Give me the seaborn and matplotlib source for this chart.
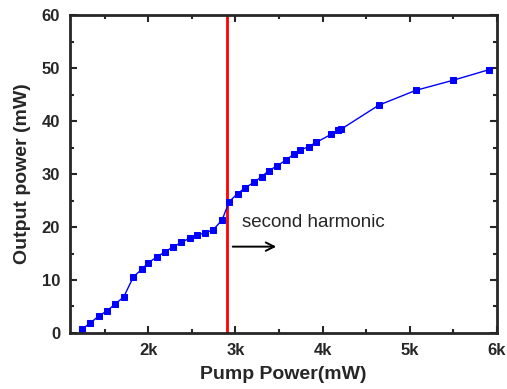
import pandas as pd
import matplotlib
matplotlib.use("Agg")
import matplotlib.pyplot as plt
import matplotlib.ticker as mticker
import seaborn as sns

# datos
pump_power = [1236, 1335, 1430, 1527, 1622, 1717, 1828, 1923, 2000, 2095,
              2187, 2279, 2378, 2473, 2562, 2653, 2745, 2845, 2928, 3023,
              3112, 3215, 3299, 3379, 3482, 3574, 3666, 3746, 3838, 3929,
              4097, 4174, 4215, 4644, 5068, 5496, 5908]
output_power = [0.7, 1.9, 3.2, 4.2, 5.5, 6.8, 10.6, 12.0, 13.3, 14.3,
                15.3, 16.2, 17.1, 17.9, 18.5, 18.9, 19.5, 21.3, 24.8, 26.3,
                27.4, 28.5, 29.5, 30.6, 31.6, 32.6, 33.7, 34.5, 35.2, 36.0,
                37.5, 38.3, 38.5, 43.0, 45.8, 47.7, 49.7]
threshold = 2900
x_ticks = [2000, 3000, 4000, 5000, 6000]
x_tick_labels = ["2k", "3k", "4k", "5k", "6k"]

df = pd.DataFrame({"pump": pump_power, "out": output_power})

sns.set_style("ticks")
plt.rcParams["font.family"] = ["Liberation Sans", "DejaVu Sans"]

fig = plt.figure(figsize=(5.07, 3.89), dpi=100)
ax = fig.add_axes([0.138, 0.144, 0.842, 0.817])

ax.axvline(threshold, color="#FF0000", lw=2, zorder=1)
sns.lineplot(data=df, x="pump", y="out", ax=ax, color="#0000FF", lw=1.0,
             marker="s", markersize=5, markeredgecolor="#0000FF", zorder=2)

ax.text(3080, 20.9, "second harmonic", fontsize=13.5, va="center", ha="left")
ax.annotate("", xy=(3500, 16.3), xytext=(2936, 16.3),
            arrowprops=dict(arrowstyle="->,head_length=0.6,head_width=0.3",
                            color="black", lw=1.4))

ax.set_xlim(1100, 6000)
ax.set_ylim(0, 60)
ax.set_xticks(x_ticks)
ax.set_xticklabels(x_tick_labels)
ax.xaxis.set_minor_locator(mticker.MultipleLocator(500))
ax.yaxis.set_major_locator(mticker.MultipleLocator(10))
ax.yaxis.set_minor_locator(mticker.MultipleLocator(5))
ax.tick_params(which="both", direction="in", top=True, right=True, width=1.5)
ax.tick_params(which="major", length=5, labelsize=12, pad=7)
ax.tick_params(which="minor", length=3)
for lbl in ax.get_xticklabels() + ax.get_yticklabels():
    lbl.set_fontweight("bold")
for sp in ax.spines.values():
    sp.set_linewidth(2)

ax.set_xlabel("Pump Power(mW)", fontsize=14, fontweight="bold", labelpad=6)
ax.set_ylabel("Output power (mW)", fontsize=14, fontweight="bold", labelpad=8)

fig.savefig("out.png", dpi=100)
plt.close()
